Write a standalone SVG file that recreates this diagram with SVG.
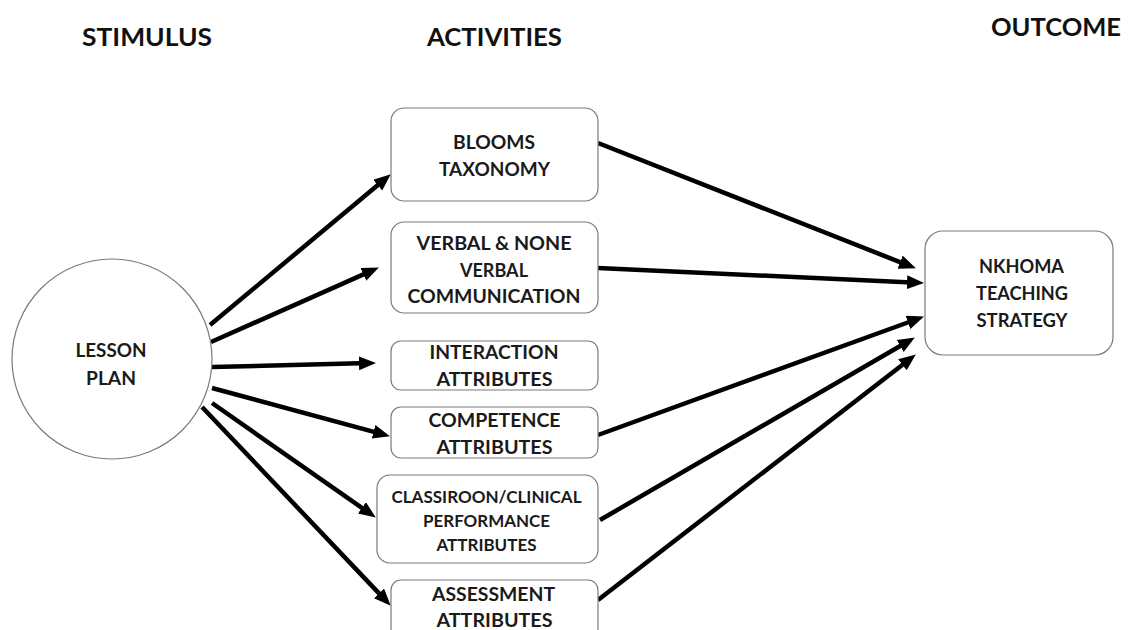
<svg xmlns="http://www.w3.org/2000/svg" width="1144" height="630" viewBox="0 0 1144 630">
  <defs>
    <marker id="head" markerUnits="userSpaceOnUse" markerWidth="19" markerHeight="15" refX="10" refY="7" orient="auto">
      <path d="M0,0 L17,7 L0,14 Z" fill="#000"/>
    </marker>
  </defs>
  <style>
    .hdr { font-family: Lato, "Open Sans", "Liberation Sans", sans-serif; font-weight: 700; font-size: 24px; fill: #111; }
    .lbl { font-family: Lato, "Open Sans", "Liberation Sans", sans-serif; font-weight: 700; font-size: 18px; fill: #1a1a1a; text-anchor: middle; }
    .sm { font-size: 17px; }
    .box { fill: #fff; stroke: #7a7a7a; stroke-width: 1.2; }
    .conn line { stroke: #000; stroke-width: 4.5; marker-end: url(#head); }
  </style>
  <rect width="1144" height="630" fill="#fff"/>

  <!-- column headings -->
  <g id="headings">
    <text class="hdr" x="82" y="46" textLength="130" lengthAdjust="spacingAndGlyphs">STIMULUS</text>
    <text class="hdr" x="427" y="46" textLength="135" lengthAdjust="spacingAndGlyphs">ACTIVITIES</text>
    <text class="hdr" x="991" y="36" textLength="130" lengthAdjust="spacingAndGlyphs">OUTCOME</text>
  </g>

  <!-- connectors -->
  <g id="connectors" class="conn">
    <line x1="210" y1="325" x2="385.4" y2="178.8"/>
    <line x1="211" y1="342" x2="372.5" y2="270.4"/>
    <line x1="212" y1="367" x2="369" y2="363.1"/>
    <line x1="212" y1="388" x2="383.2" y2="434.4"/>
    <line x1="212" y1="403" x2="370.1" y2="513.6"/>
    <line x1="202" y1="407" x2="385.9" y2="600.6"/>
    <line x1="598" y1="143" x2="909.4" y2="265.8"/>
    <line x1="598" y1="268" x2="917" y2="282.7"/>
    <line x1="598" y1="435" x2="917.4" y2="319"/>
    <line x1="600" y1="520" x2="908.8" y2="341"/>
    <line x1="598" y1="600" x2="910.3" y2="358.7"/>
  </g>

  <g id="lesson-plan">
    <circle class="box" cx="112" cy="359" r="100"/>
    <text class="lbl" x="111" y="357" textLength="71" lengthAdjust="spacingAndGlyphs">LESSON</text>
    <text class="lbl" x="111" y="385" textLength="50" lengthAdjust="spacingAndGlyphs">PLAN</text>
  </g>

  <g id="blooms-taxonomy">
    <rect class="box" x="391" y="108" width="207" height="93" rx="13"/>
    <text class="lbl" x="494" y="148.5" textLength="82" lengthAdjust="spacingAndGlyphs">BLOOMS</text>
    <text class="lbl" x="494.5" y="176" textLength="111" lengthAdjust="spacingAndGlyphs">TAXONOMY</text>
  </g>

  <g id="verbal-communication">
    <rect class="box" x="391" y="222" width="207" height="91" rx="13"/>
    <text class="lbl" x="494" y="250" textLength="155" lengthAdjust="spacingAndGlyphs">VERBAL &amp; NONE</text>
    <text class="lbl" x="494" y="277" textLength="68" lengthAdjust="spacingAndGlyphs">VERBAL</text>
    <text class="lbl" x="494" y="303" textLength="173" lengthAdjust="spacingAndGlyphs">COMMUNICATION</text>
  </g>

  <g id="interaction-attributes">
    <rect class="box" x="391" y="341" width="207" height="49" rx="10"/>
    <text class="lbl" x="494" y="359" textLength="129" lengthAdjust="spacingAndGlyphs">INTERACTION</text>
    <text class="lbl" x="494.5" y="385.5" textLength="116" lengthAdjust="spacingAndGlyphs">ATTRIBUTES</text>
  </g>

  <g id="competence-attributes">
    <rect class="box" x="391" y="407" width="207" height="51" rx="10"/>
    <text class="lbl" x="494.5" y="427" textLength="132" lengthAdjust="spacingAndGlyphs">COMPETENCE</text>
    <text class="lbl" x="494.5" y="453.5" textLength="116" lengthAdjust="spacingAndGlyphs">ATTRIBUTES</text>
  </g>

  <g id="performance-attributes">
    <rect class="box" x="377" y="475" width="221" height="88" rx="13"/>
    <text class="lbl sm" x="486.5" y="503" textLength="190" lengthAdjust="spacingAndGlyphs">CLASSIROON/CLINICAL</text>
    <text class="lbl sm" x="486.5" y="527" textLength="127" lengthAdjust="spacingAndGlyphs">PERFORMANCE</text>
    <text class="lbl sm" x="486.5" y="550.5" textLength="100" lengthAdjust="spacingAndGlyphs">ATTRIBUTES</text>
  </g>

  <g id="assessment-attributes">
    <rect class="box" x="391" y="580" width="207" height="70" rx="10"/>
    <text class="lbl" x="493.5" y="601" textLength="123" lengthAdjust="spacingAndGlyphs">ASSESSMENT</text>
    <text class="lbl" x="494.5" y="627" textLength="116" lengthAdjust="spacingAndGlyphs">ATTRIBUTES</text>
  </g>

  <g id="teaching-strategy">
    <rect class="box" x="925" y="231" width="188" height="124" rx="18"/>
    <text class="lbl" x="1021.5" y="273" textLength="85" lengthAdjust="spacingAndGlyphs">NKHOMA</text>
    <text class="lbl" x="1022" y="300" textLength="92" lengthAdjust="spacingAndGlyphs">TEACHING</text>
    <text class="lbl" x="1022" y="327" textLength="91" lengthAdjust="spacingAndGlyphs">STRATEGY</text>
  </g>
</svg>
